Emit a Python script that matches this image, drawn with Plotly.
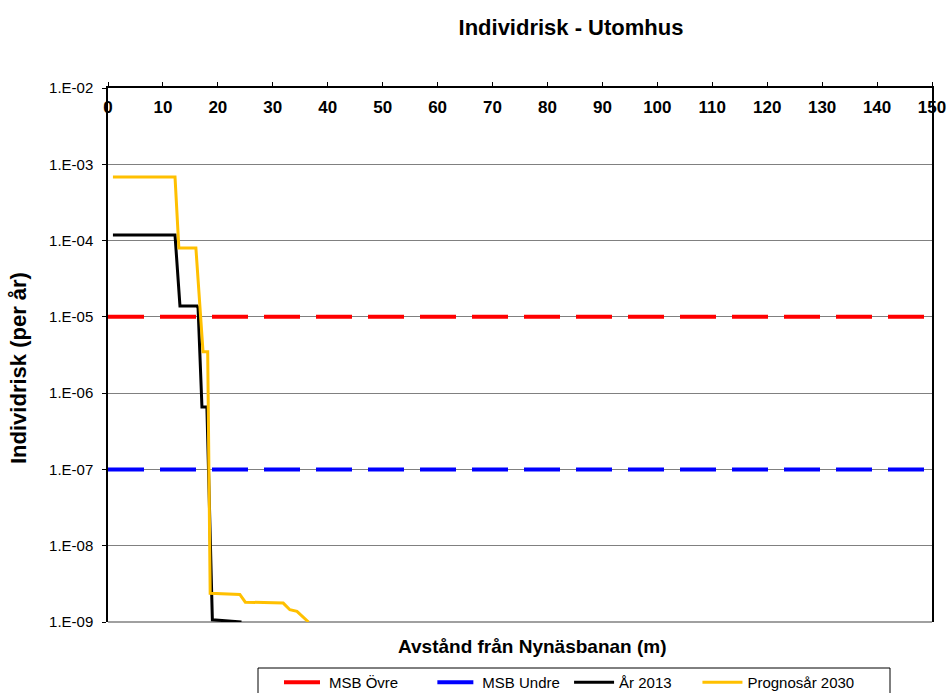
import plotly.graph_objects as go

# Data
x_ticks = list(range(0, 151, 10))
y_tickvals = [1e-9, 1e-8, 1e-7, 1e-6, 1e-5, 1e-4, 1e-3, 1e-2]
y_ticktext = ["1.E-09", "1.E-08", "1.E-07", "1.E-06", "1.E-05", "1.E-04", "1.E-03", "1.E-02"]

series_names = ["MSB Övre", "MSB Undre", "År 2013", "Prognosår 2030"]

msb_ovre_x = [0, 150]
msb_ovre_y = [1e-5, 1e-5]
msb_undre_x = [0, 150]
msb_undre_y = [1e-7, 1e-7]

ar2013_x = [0.9, 12.2, 13.1, 16.2, 16.4, 17.1, 18.0, 18.9, 19.0, 24.3]
ar2013_y = [1.18e-4, 1.18e-4, 1.39e-5, 1.39e-5, 1.3e-5, 6.6e-7, 6.6e-7, 1.15e-9, 1.07e-9, 1.0e-9]

prog2030_x = [0.9, 12.2, 12.9, 16.0, 17.3, 18.15, 18.6, 24.0, 25.0, 31.9, 33.1, 34.4, 36.5]
prog2030_y = [6.8e-4, 6.8e-4, 8.0e-5, 8.0e-5, 3.5e-6, 3.5e-6, 2.38e-9, 2.3e-9, 1.82e-9, 1.77e-9, 1.45e-9, 1.38e-9, 1.0e-9]

FONT = "Liberation Sans, Arial, sans-serif"
NB = "\u00a0"
# invisible padding to space the legend entries like the reference
legend_pad = [7, 1, 5, 0]
legend_names = [n + NB * p for n, p in zip(series_names, legend_pad)]

fig = go.Figure()
fig.add_trace(go.Scatter(x=msb_ovre_x, y=msb_ovre_y, mode="lines", name=legend_names[0],
                         line=dict(color="#ff0000", width=4, dash="36px,16px")))
fig.add_trace(go.Scatter(x=msb_undre_x, y=msb_undre_y, mode="lines", name=legend_names[1],
                         line=dict(color="#0000ff", width=4, dash="36px,16px")))
fig.add_trace(go.Scatter(x=ar2013_x, y=ar2013_y, mode="lines", name=legend_names[2],
                         line=dict(color="#000000", width=3)))
fig.add_trace(go.Scatter(x=prog2030_x, y=prog2030_y, mode="lines", name=legend_names[3],
                         line=dict(color="#ffc000", width=3)))

W, H = 947, 693
L, R, T, B = 108, 15, 88, 71
pw = W - L - R
ph = H - T - B

def px(xp):
    return (xp - L) / pw

def py(yp):
    return (H - B - yp) / ph

fig.update_layout(
    width=W, height=H,
    margin=dict(l=L, r=R, t=T, b=B, autoexpand=False),
    paper_bgcolor="white", plot_bgcolor="white",
    font=dict(family=FONT, color="black"),
    title=dict(text="<b>Individrisk - Utomhus</b>", font=dict(size=22, family=FONT, color="black"),
               x=571 / W, xanchor="center",
               y=1 - 27 / H, yanchor="middle"),
    showlegend=True,
    legend=dict(orientation="h", x=px(279), xanchor="left",
                y=py(666), yanchor="top",
                borderwidth=0, bgcolor="rgba(0,0,0,0)",
                font=dict(size=15, family=FONT, color="black"),
                itemwidth=40, traceorder="normal"),
    xaxis=dict(range=[0, 150], side="top", tickvals=x_ticks,
               ticktext=[f"<b>{v}</b>" for v in x_ticks],
               ticklabelposition="inside", ticklabeloverflow="allow",
               ticklabelstandoff=14,
               tickfont=dict(size=17, family=FONT, color="black"),
               showgrid=False, zeroline=False, showline=True, linecolor="black",
               linewidth=1.5, ticks="outside", ticklen=4, tickcolor="black"),
    yaxis=dict(type="log", range=[-9, -2], tickvals=y_tickvals, ticktext=y_ticktext,
               tickfont=dict(size=15, family=FONT, color="black"), ticklabelstandoff=6,
               showgrid=True, gridcolor="#808080", gridwidth=1,
               showline=True, linecolor="black", linewidth=1.5, mirror=True,
               ticks="outside", ticklen=4, tickcolor="black", zeroline=False),
    shapes=[
        dict(type="rect", xref="paper", yref="paper",
             x0=px(258), x1=px(890), y0=py(668), y1=py(700),
             line=dict(color="black", width=1), fillcolor="rgba(0,0,0,0)", layer="above"),
        dict(type="line", xref="paper", yref="paper", x0=0, x1=1, y0=0, y1=0,
             line=dict(color="#808080", width=1.5), layer="below"),
    ],
    annotations=[
        dict(text="<b>Avstånd från Nynäsbanan (m)</b>", xref="paper", yref="paper",
             x=px(532), y=py(646), xanchor="center", yanchor="middle",
             showarrow=False, font=dict(size=19, family=FONT, color="black")),
        dict(text="<b>Individrisk (per år)</b>", xref="paper", yref="paper",
             x=px(18), y=py(368), xanchor="center", yanchor="middle",
             textangle=-90, showarrow=False, font=dict(size=22, family=FONT, color="black")),
    ],
)

fig.write_html("out.html", config={"displayModeBar": False},
               post_script="document.body.style.margin='0px';document.body.style.overflow='hidden';")
